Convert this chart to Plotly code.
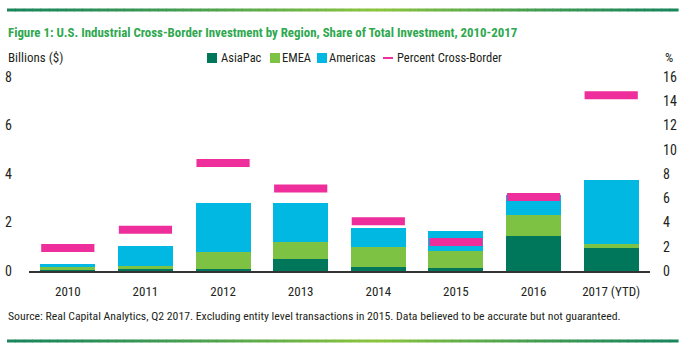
import plotly.graph_objects as go

years = ["2010", "2011", "2012", "2013", "2014", "2015", "2016", "2017 (YTD)"]
asiapac = [0.04, 0.08, 0.08, 0.51, 0.15, 0.14, 1.44, 0.95]
emea = [0.14, 0.14, 0.69, 0.70, 0.85, 0.68, 0.88, 0.16]
americas = [0.11, 0.81, 2.05, 1.61, 0.76, 0.82, 0.80, 2.63]
pct_cross = [1.9, 3.4, 8.9, 6.8, 4.1, 2.4, 6.1, 14.5]

left_ticks = [0, 2, 4, 6, 8]
right_ticks = [0, 2, 4, 6, 8, 10, 12, 14, 16]

FONT = "Roboto Condensed, DejaVu Sans Condensed, sans-serif"
C_ASIA = "#00775A"
C_EMEA = "#7DC242"
C_AMER = "#00B8E2"
C_PINK = "#EE2E9B"
C_TITLE = "#2FA84F"
C_TEXT = "#231F20"

W, H = 685, 348
L, R, T, B = 29, 35, 77, 77
PW, PH = W - L - R, H - T - B


def px(xp):
    return (xp - L) / PW


def py(yp):
    return (H - B - yp) / PH


fig = go.Figure()
fig.add_bar(x=years, y=asiapac, name="AsiaPac", marker_color=C_ASIA, marker_line_width=0, showlegend=False)
fig.add_bar(x=years, y=emea, name="EMEA", marker_color=C_EMEA, marker_line_width=0, showlegend=False)
fig.add_bar(x=years, y=americas, name="Americas", marker_color=C_AMER, marker_line_width=0, showlegend=False)
fig.add_scatter(x=years, y=pct_cross, yaxis="y2", mode="markers", name="Percent Cross-Border",
                showlegend=False, cliponaxis=False,
                marker=dict(symbol="line-ew", size=38, color=C_PINK,
                            line=dict(color=C_PINK, width=8)))

shapes = []
# gradient rules top and bottom
n = 80
c_dark = (0x1A, 0x86, 0x5C)
c_light = (0x8D, 0xC6, 0x3F)
x_start, x_end = 7, 678
peak = 0.55
for i in range(n):
    t = (i + 0.5) / n
    w = t / peak if t < peak else (1 - t) / (1 - peak)
    w = max(0.0, min(1.0, w)) ** 1.3
    col = tuple(int(c_dark[k] + (c_light[k] - c_dark[k]) * w) for k in range(3))
    xa = x_start + (x_end - x_start) * i / n
    xb = x_start + (x_end - x_start) * (i + 1) / n + 0.6
    for yc in (10, 341):
        shapes.append(dict(type="rect", xref="paper", yref="paper",
                           x0=px(xa), x1=px(xb), y0=py(yc + 1.5), y1=py(yc - 1.5),
                           fillcolor="rgb(%d,%d,%d)" % col, line_width=0, layer="above"))

# legend (manual)
LEG_Y = 58
legend_items = [
    ("AsiaPac", C_ASIA, 207, 221, "square"),
    ("EMEA", C_EMEA, 270, 282, "square"),
    ("Americas", C_AMER, 317, 329, "square"),
    ("Percent Cross-Border", C_PINK, 383, 397, "line"),
]
annotations = []
for name, col, sx, tx, kind in legend_items:
    if kind == "square":
        shapes.append(dict(type="rect", xref="paper", yref="paper",
                           x0=px(sx), x1=px(sx + 10), y0=py(LEG_Y + 5), y1=py(LEG_Y - 5),
                           fillcolor=col, line_width=0))
    else:
        shapes.append(dict(type="line", xref="paper", yref="paper",
                           x0=px(sx), x1=px(sx + 10), y0=py(LEG_Y), y1=py(LEG_Y),
                           line=dict(color=col, width=2)))
    annotations.append(dict(text=name, x=px(tx - 1), y=py(LEG_Y), xref="paper", yref="paper",
                            xanchor="left", yanchor="middle", showarrow=False, borderpad=0,
                            font=dict(family=FONT, size=12.5, color=C_TEXT)))

annotations += [
    dict(text="<b>Figure 1: U.S. Industrial Cross-Border Investment by Region, Share of Total Investment, 2010-2017</b>",
         x=px(7), y=py(33), xref="paper", yref="paper", xanchor="left", yanchor="middle",
         showarrow=False, borderpad=0, font=dict(family=FONT, size=12.9, color=C_TITLE)),
    dict(text="Billions ($)", x=px(7), y=py(58), xref="paper", yref="paper", xanchor="left",
         yanchor="middle", showarrow=False, borderpad=0, font=dict(family=FONT, size=13, color=C_TEXT)),
    dict(text="%", x=px(669), y=py(58), xref="paper", yref="paper", xanchor="center",
         yanchor="middle", showarrow=False, borderpad=0, font=dict(family=FONT, size=13, color=C_TEXT)),
    dict(text="Source: Real Capital Analytics, Q2 2017. Excluding entity level transactions in 2015. Data believed to be accurate but not guaranteed.",
         x=px(7), y=py(316), xref="paper", yref="paper", xanchor="left", yanchor="middle",
         showarrow=False, borderpad=0, font=dict(family=FONT, size=11.75, color=C_TEXT)),
]

fig.update_layout(
    width=W, height=H, margin=dict(l=L, r=R, t=T, b=B, pad=0, autoexpand=False),
    barmode="stack", bargap=0.29,
    paper_bgcolor="white", plot_bgcolor="white",
    font=dict(family=FONT, size=12, color=C_TEXT),
    shapes=shapes, annotations=annotations, showlegend=False,
    xaxis=dict(range=[-0.5, len(years) - 0.5], showgrid=False, showline=True, linecolor="#333333",
               linewidth=1.5, automargin=False,
               ticks="", ticklabelstandoff=8, tickfont=dict(size=13, color=C_TEXT)),
    yaxis=dict(range=[0, 8], tickvals=left_ticks, showgrid=False, zeroline=False, automargin=False,
               showline=False, ticks="", ticklabelstandoff=16, tickfont=dict(size=14, color=C_TEXT)),
    yaxis2=dict(range=[0, 16], tickvals=right_ticks, overlaying="y", side="right", automargin=False,
                showgrid=False, zeroline=False, showline=False, ticks="",
                ticklabelstandoff=12, tickfont=dict(size=14, color=C_TEXT)),
)

fig.write_html("out.html")
